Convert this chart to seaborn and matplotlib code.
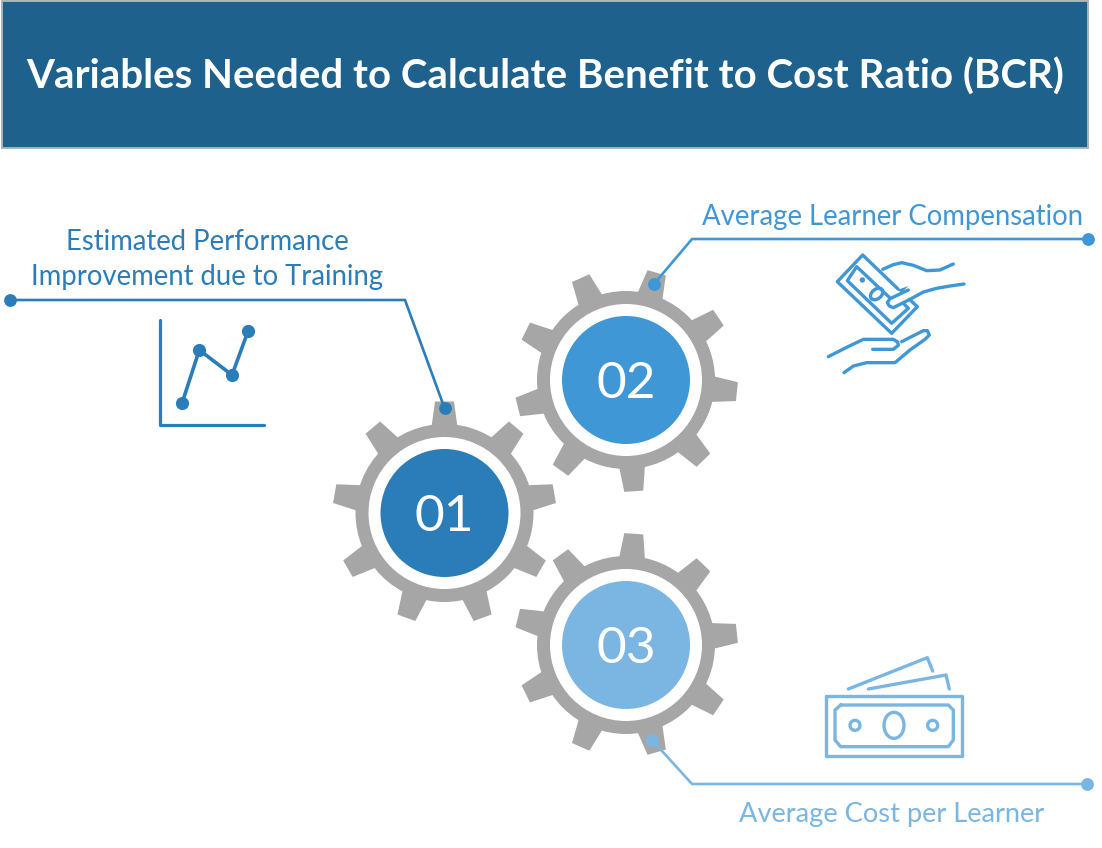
import numpy as np
import matplotlib
matplotlib.use("Agg")
import matplotlib.pyplot as plt
from matplotlib.patches import Circle, Ellipse, Polygon, Rectangle
import seaborn as sns

W, H = 1102, 848
TITLE = "Variables Needed to Calculate Benefit to Cost Ratio (BCR)"
LABELS = ["01", "02", "03"]
GEAR_X = [444.5, 626, 626]
GEAR_Y = [513, 380, 645]
GEAR_ANGLE = [90, 74, 86]
GEAR_FILL = ["#2A7DB8", "#3F97D6", "#7BB6E2"]
GRAY = "#A6A6A6"
BAR = "#1F618D"
C1, C2, C3 = GEAR_FILL

CONN1_X = [10, 405, 444.5]
CONN1_Y = [300, 300, 408]
CONN2_X = [1088, 692, 654]
CONN2_Y = [239, 239, 284]
CONN3_X = [1087, 692, 652]
CONN3_Y = [784, 784, 740]

# small line-chart icon
ICON_X = [182, 199.3, 232, 248]
ICON_Y = [403.3, 350, 375, 331.3]
AXIS_X = [160, 160, 264]
AXIS_Y = [320, 425.3, 425.3]

# hand icon (zoom coordinates, 3x, origin 810,240)
NOTE_OUT = [(264, 147), (158, 45), (82, 125), (245, 280), (322, 200), (298, 178)]
NOTE_IN = [(238, 172), (140, 80), (112, 122), (245, 250), (295, 205), (282, 192)]
HAND_TOP = [(218, 88), (250, 74), (275, 68), (310, 76), (350, 92), (390, 90), (430, 72)]
HAND_MID = [(462, 132), (420, 138), (380, 145), (340, 156), (300, 178), (250, 203), (238, 198),
            (232, 188), (240, 176), (295, 150)]
PALM_A = [(55, 350), (110, 322), (160, 298), (250, 298), (263, 306), (265, 316), (250, 328), (188, 328)]
PALM_B = [(102, 398), (130, 378), (170, 368), (255, 368), (300, 330), (345, 298), (358, 285),
          (352, 272), (340, 272), (275, 305)]
# cash icon (zoom coordinates, 3x, origin 810,645)
CASH_OUT = [(48, 152), (455, 152), (455, 332), (48, 332), (48, 152)]
CASH_IN = [(92, 180), (415, 180), (430, 195), (430, 285), (415, 305), (92, 305), (75, 285), (75, 195), (92, 180)]
BACK_A = [(115, 132), (352, 38), (368, 78)]
BACK_B = [(175, 132), (408, 90), (418, 132)]

sns.set_theme(style="white", rc={"font.family": "Lato"})
fig = plt.figure(figsize=(W / 100, H / 100), dpi=100, facecolor="white")
ax = fig.add_axes([0, 0, 1, 1])


def line(xs, ys, color, lw=1.9):
    sns.lineplot(x=xs, y=ys, sort=False, estimator=None, color=color, linewidth=lw, ax=ax,
                 solid_capstyle="round", solid_joinstyle="round", zorder=4)


def zline(pts, ox, oy, color, lw=2.4):
    line([ox + p[0] / 3 for p in pts], [oy + p[1] / 3 for p in pts], color, lw)


def dots(xs, ys, color, size):
    sns.scatterplot(x=xs, y=ys, color=color, s=size, linewidth=0, ax=ax, zorder=6)


def gear(cx, cy, start):
    pts = []
    for k in range(9):
        a = np.radians(start + k * 40)
        u = np.array([np.cos(a), -np.sin(a)])
        v = np.array([-u[1], u[0]])
        c = np.array([cx, cy])
        pts += [c + u * 86 - v * 13, c + u * 111.5 - v * 9.5, c + u * 111.5 + v * 9.5, c + u * 86 + v * 13]
    ax.add_patch(Polygon(pts, closed=True, fc=GRAY, ec="none", zorder=1))
    ax.add_patch(Circle((cx, cy), 89, fc=GRAY, ec="none", zorder=1))
    ax.add_patch(Circle((cx, cy), 76, fc="white", ec="none", zorder=2))


ax.add_patch(Rectangle((2, 1), 1086, 147, fc=BAR, ec="#A9B4BC", lw=1.4, zorder=1))
ax.text(545, 77, TITLE, color="white", fontsize=29, fontweight="bold", ha="center", va="center")

for x, y, ang, col, lab in zip(GEAR_X, GEAR_Y, GEAR_ANGLE, GEAR_FILL, LABELS):
    gear(x, y, ang)
    ax.add_patch(Circle((x, y), 64, fc=col, ec="none", zorder=3))
    ax.text(x, y + 4, lab, color="white", fontsize=37, ha="center", va="center", zorder=5)

line(CONN1_X, CONN1_Y, C1)
line(CONN2_X, CONN2_Y, C2)
line(CONN3_X, CONN3_Y, C3)
dots(CONN1_X[::2], CONN1_Y[::2], C1, 85)
dots(CONN2_X[::2], CONN2_Y[::2], C2, 85)
dots(CONN3_X[::2], CONN3_Y[::2], C3, 85)

ax.text(207, 241.5, "Estimated Performance", color=C1, fontsize=19.8, ha="center", va="center")
ax.text(207, 277.5, "Improvement due to Training", color=C1, fontsize=19.8, ha="center", va="center")
ax.text(892, 216.5, "Average Learner Compensation", color=C2, fontsize=19.8, ha="center", va="center")
ax.text(892, 814.5, "Average Cost per Learner", color=C3, fontsize=19.6, ha="center", va="center")

line(AXIS_X, AXIS_Y, C1, 2.3)
line(ICON_X, ICON_Y, C1, 2.6)
dots(ICON_X, ICON_Y, C1, 90)

for part in (NOTE_OUT, NOTE_IN, HAND_TOP, HAND_MID, PALM_A, PALM_B):
    zline(part, 810, 240, C2)
ax.add_patch(Circle((810 + 157 / 3, 240 + 120 / 3), 2.7, fc=C2, ec="none", zorder=4))
ax.add_patch(Ellipse((810 + 200 / 3, 240 + 162 / 3), 14, 9.5, angle=-40, fc="none", ec=C2, lw=2.4, zorder=4))
ax.add_patch(Polygon([(810 + 262 / 3, 240 + 150 / 3), (810 + 295 / 3, 240 + 138 / 3), (810 + 275 / 3, 240 + 158 / 3)],
                     closed=True, fc=C2, ec="none", zorder=4))

for part in (CASH_OUT, CASH_IN, BACK_A, BACK_B):
    zline(part, 810, 645, C3)
for zx, w, h in ((135, 10, 10), (368, 10, 10), (252, 20, 26)):
    ax.add_patch(Ellipse((810 + zx / 3, 645 + 241 / 3), w, h, fc="none", ec=C3, lw=2.4, zorder=4))

ax.set_xlim(0, W)
ax.set_ylim(H, 0)
ax.axis("off")
fig.savefig("out.png", dpi=100, facecolor="white")
